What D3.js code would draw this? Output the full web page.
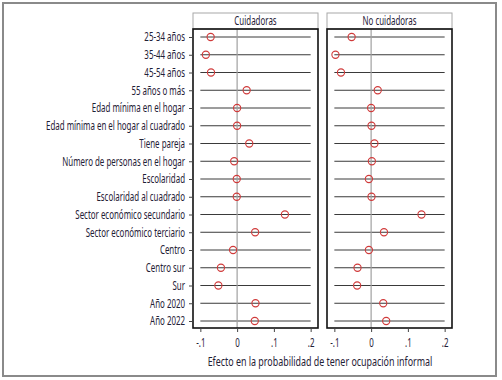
<!DOCTYPE html>
<html>
<head>
<meta charset="utf-8">
<script src="https://cdn.jsdelivr.net/npm/d3@7"></script>
<style>
  body { margin: 0; background: #fff; }
  text { font-family: "Noto Sans", "DejaVu Sans", sans-serif; fill: #1f2136; }
</style>
</head>
<body>
<svg id="chart" width="502" height="380"></svg>
<script>
// DATA
const variables = [
  "25-34 años", "35-44 años", "45-54 años", "55 años o más",
  "Edad mínima en el hogar", "Edad mínima en el hogar al cuadrado",
  "Tiene pareja", "Número de personas en el hogar", "Escolaridad",
  "Escolaridad al cuadrado", "Sector económico secundario",
  "Sector económico terciario", "Centro", "Centro sur", "Sur",
  "Año 2020", "Año 2022"
];
const panels = ["Cuidadoras", "No cuidadoras"];
const cuidadoras = [-0.072, -0.085, -0.071, 0.026, 0.0, 0.0, 0.033, -0.008, -0.001,
  -0.001, 0.130, 0.049, -0.011, -0.044, -0.051, 0.050, 0.048];
const noCuidadoras = [-0.053, -0.097, -0.082, 0.018, 0.0, 0.001, 0.009, 0.002, -0.006,
  0.001, 0.137, 0.035, -0.006, -0.037, -0.038, 0.033, 0.041];
const xTicks = [-0.1, 0, 0.1, 0.2];
const xTickLabels = ["-.1", "0", ".1", ".2"];
const axisTitle = "Efecto en la probabilidad de tener ocupación informal";

// CANVAS SETUP
const svg = d3.select("#chart");
const plotTop = 29, plotBottom = 328, headerTop = 13;
const panelX = [193, 327], panelW = 125;
const fs = 12;

// outer frame
svg.append("rect")
  .attr("x", 3).attr("y", 3).attr("width", 493).attr("height", 373)
  .attr("fill", "none").attr("stroke", "#8a8a8a").attr("stroke-width", 2);

const y = d3.scalePoint()
  .domain(variables)
  .range([37, 321]);

const series = [cuidadoras, noCuidadoras];

panels.forEach((name, i) => {
  const x0 = panelX[i];
  const x = d3.scaleLinear().domain([-0.12, 0.22]).range([x0, x0 + panelW]);
  const g = svg.append("g");

  // header
  g.append("rect")
    .attr("x", x0).attr("y", headerTop).attr("width", panelW).attr("height", plotTop - headerTop)
    .attr("fill", "#fff").attr("stroke", "#a8a8a8").attr("stroke-width", 1);
  g.append("text")
    .attr("class", "sq")
    .attr("x", x0 + panelW / 2).attr("y", headerTop + 12)
    .attr("text-anchor", "middle").attr("font-size", fs)
    .text(name);

  // gridlines per variable
  g.selectAll("line.grid")
    .data(variables)
    .join("line")
    .attr("class", "grid")
    .attr("x1", x(-0.1)).attr("x2", x(0.2))
    .attr("y1", d => y(d)).attr("y2", d => y(d))
    .attr("stroke", "#3a3a3a").attr("stroke-width", 1);

  // zero line
  g.append("line")
    .attr("x1", x(0)).attr("x2", x(0))
    .attr("y1", plotTop).attr("y2", plotBottom)
    .attr("stroke", "#a0a0a0").attr("stroke-width", 1.2);

  // plot border
  g.append("rect")
    .attr("x", x0).attr("y", plotTop).attr("width", panelW).attr("height", plotBottom - plotTop)
    .attr("fill", "none").attr("stroke", "#111").attr("stroke-width", 1.6);

  // points
  g.selectAll("circle")
    .data(variables.map((v, j) => ({ v, val: series[i][j] })))
    .join("circle")
    .attr("cx", d => x(d.val)).attr("cy", d => y(d.v))
    .attr("r", 3.6)
    .attr("fill", "none").attr("stroke", "#d03a3a").attr("stroke-width", 1.1);

  // x axis
  const xAxis = d3.axisBottom(x)
    .tickValues(xTicks)
    .tickFormat((d, k) => xTickLabels[k])
    .tickSize(4).tickSizeOuter(0);
  const gx = g.append("g")
    .attr("transform", `translate(0,${plotBottom})`)
    .call(xAxis);
  gx.select(".domain").remove();
  gx.selectAll(".tick line").attr("stroke", "#444");
  gx.selectAll(".tick text")
    .attr("class", "sq")
    .attr("font-size", fs).attr("font-family", null).attr("fill", null)
    .attr("y", 19).attr("dy", null);
});

// y axis labels
const yAxis = d3.axisLeft(y).tickSize(4).tickSizeOuter(0).tickPadding(4);
const gy = svg.append("g")
  .attr("transform", `translate(${panelX[0]},0)`)
  .call(yAxis);
gy.select(".domain").remove();
gy.selectAll(".tick line").attr("stroke", "#444");
gy.selectAll(".tick text")
  .attr("class", "sq")
  .attr("font-size", fs).attr("font-family", null).attr("fill", null);

// axis title (narrowed with a horizontal scale)
const title = svg.append("text")
  .attr("text-anchor", "middle").attr("font-size", 12.5)
  .text(axisTitle);
const tw = title.node().getComputedTextLength();
title.attr("transform", `translate(320,366) scale(${225 / tw},1)`);

// condense text to mimic the narrow typeface of the original
const longest = gy.selectAll(".tick text").filter(d => d === "Edad mínima en el hogar al cuadrado").node();
const squeeze = 139 / longest.getComputedTextLength();
svg.selectAll("text.sq").each(function () {
  const w = this.getComputedTextLength();
  d3.select(this).attr("textLength", w * squeeze).attr("lengthAdjust", "spacingAndGlyphs");
});
</script>
</body>
</html>
